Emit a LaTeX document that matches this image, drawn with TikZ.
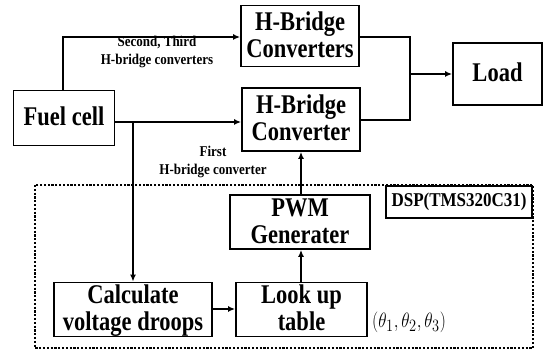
\documentclass[tikz,border=0pt]{standalone}
\usepackage{fontspec}
\usepackage{graphicx}
\setmainfont{Liberation Serif}
\usetikzlibrary{arrows.meta}
\newcommand{\vst}[1]{\raisebox{-2.5pt}[\height][\depth]{\scalebox{1}[1.2]{\begin{tabular}{@{}c@{}}#1\end{tabular}}}}
\begin{document}
\begin{tikzpicture}[x=1pt,y=-1pt,
  blk/.style={draw,line width=1.8pt,inner sep=0pt,align=center,
    font=\fontsize{22.5}{22.5}\selectfont\bfseries},
  lbl/.style={align=center,font=\fontsize{13}{16}\selectfont\bfseries,inner sep=0pt},
  conn/.style={line width=1.6pt},
  arr/.style={line width=1.6pt,-{Latex[length=7pt,width=6pt]}}]
\useasboundingbox (0,0) rectangle (544,352);
% blocks
\node[blk,minimum width=101pt,minimum height=55pt] (fc) at (64,118) {\vst{Fuel cell}};
\node[blk,minimum width=118pt,minimum height=61pt] (hbs) at (300,36) {\vst{H-Bridge\\Converters}};
\node[blk,minimum width=118pt,minimum height=63pt] (hb) at (301,119.5) {\vst{H-Bridge\\Converter}};
\node[blk,minimum width=89pt,minimum height=62pt] (load) at (497.5,74) {\vst{Load}};
% DSP frame
\draw[line width=2pt,dash pattern=on 2.2pt off 1.6pt] (35,185) rectangle (533,348);
\node[draw,line width=1.8pt,minimum width=146pt,minimum height=32pt,inner sep=0pt,
  font=\fontsize{17}{20}\selectfont\bfseries,anchor=north east] (dsp) at (533,185) {\scalebox{1}[1.15]{DSP(TMS320C31)}};
\node[blk,minimum width=140pt,minimum height=50pt] (pwm) at (300,222) {\vst{PWM\\Generater}};
\node[blk,minimum width=158pt,minimum height=51pt] (calc) at (133,309.5) {\vst{Calculate\\voltage droops}};
\node[blk,minimum width=131pt,minimum height=51pt] (lut) at (301.5,309.5) {\vst{Look up\\table}};
\node[font=\fontsize{19}{22}\selectfont,anchor=west,inner sep=0pt] (th) at (372,322) {\scalebox{1}[1.2]{$(\theta_1,\theta_2,\theta_3)$}};
% coordinates
\coordinate (up) at (63,37);
\coordinate (br) at (133,122);
\coordinate (mt) at (410,37);
\coordinate (mb) at (410,120);
\coordinate (mm) at (410,74);
% connectors
\draw[arr] (fc.north -| up) -- (up) -- (hbs.west |- up);
\draw[arr] (fc.east |- br) -- (hb.west |- br);
\draw[arr] (br) -- (calc.north -| br);
\draw[conn] (hbs.east |- mt) -- (mt) -- (mb) -- (hb.east |- mb);
\draw[arr] (mm) -- (load.west |- mm);
\draw[arr] (calc.east |- 0,309) -- (lut.west |- 0,309);
\draw[arr] (lut.north -| 301,0) -- (pwm.south -| 301,0);
\draw[arr] (pwm.north -| 301,0) -- (hb.south -| 301,0);
% labels
\node[lbl] (l1) at (157,52) {\scalebox{1}[1.15]{\begin{tabular}{@{}c@{}}Second, Third\\H-bridge converters\end{tabular}}};
\node[lbl] (l2) at (213,162) {\scalebox{1}[1.15]{\begin{tabular}{@{}c@{}}First\\H-bridge converter\end{tabular}}};
\end{tikzpicture}
\end{document}
